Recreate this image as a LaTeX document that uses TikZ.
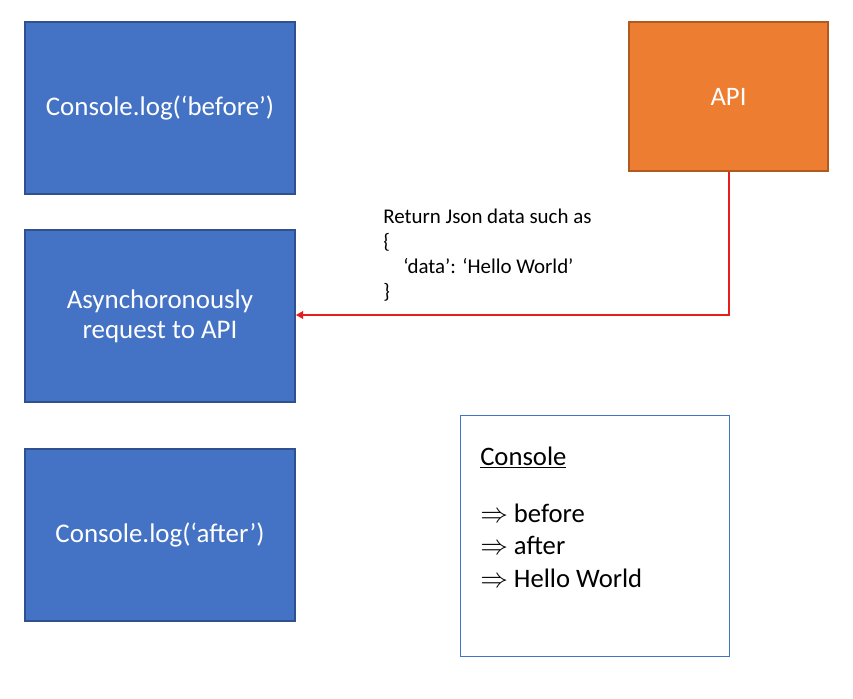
\documentclass[tikz,border=0pt]{standalone}
\usepackage{fontspec}
\setmainfont{Carlito}
\usetikzlibrary{arrows.meta}
\definecolor{boxblue}{HTML}{4472C4}
\definecolor{boxblueedge}{HTML}{2F528F}
\definecolor{apiorange}{HTML}{ED7D31}
\definecolor{apiedge}{HTML}{AE5A21}
\definecolor{arrowred}{HTML}{E81E1E}
\tikzset{
  bluebox/.style={draw=boxblueedge, fill=boxblue, line width=1.1pt, text=white,
    minimum width=202.5pt, minimum height=129pt, inner sep=0pt, align=center,
    font=\fontsize{20.2}{22.5}\selectfont},
  apibox/.style={draw=apiedge, fill=apiorange, line width=1.1pt, text=white,
    minimum width=149.25pt, minimum height=111.75pt, inner sep=0pt,
    font=\fontsize{20}{22.5}\selectfont},
  consolebox/.style={draw=boxblue, line width=0.6pt, fill=white,
    minimum width=201.75pt, minimum height=180.75pt, inner sep=0pt},
  jsontext/.style={anchor=base west, inner sep=0pt, font=\fontsize{15.7}{18}\selectfont},
  context/.style={anchor=base west, inner sep=0pt, font=\fontsize{20}{24}\selectfont},
  redarrow/.style={draw=arrowred, line width=1.5pt, -{Triangle[length=5.5pt,width=5.5pt]}}
}
\begin{document}
\begin{tikzpicture}[x=0.75pt,y=-0.75pt]
\useasboundingbox (0,0) rectangle (853,699);
\node[bluebox] (before) at (160,108) {Console.log(‘before’)};
\node[bluebox] (async) at (160,316) {Asynchoronously\\request to API};
\node[bluebox] (after) at (160,535) {Console.log(‘after’)};
\node[apibox] (api) at (728.5,96.5) {API};
\node[consolebox] (console) at (594.5,535.5) {};
\node[jsontext] (j1) at (383,223) {Return Json data such as};
\node[jsontext] (j2) at (383,248) {\{};
\node[jsontext] (j3) at (403,273) {‘data’: ‘Hello World’};
\node[jsontext] (j4) at (383,298) {\}};
\node[context] (ctitle) at (480,465) {\underline{Console}};
\node[context] (c1) at (480,522) {$\Rightarrow$ before};
\node[context] (c2) at (480,554) {$\Rightarrow$ after};
\node[context] (c3) at (480,587) {$\Rightarrow$ Hello World};
\draw[redarrow] (api.south) |- ([yshift=0.75pt]async.east);
\end{tikzpicture}
\end{document}
